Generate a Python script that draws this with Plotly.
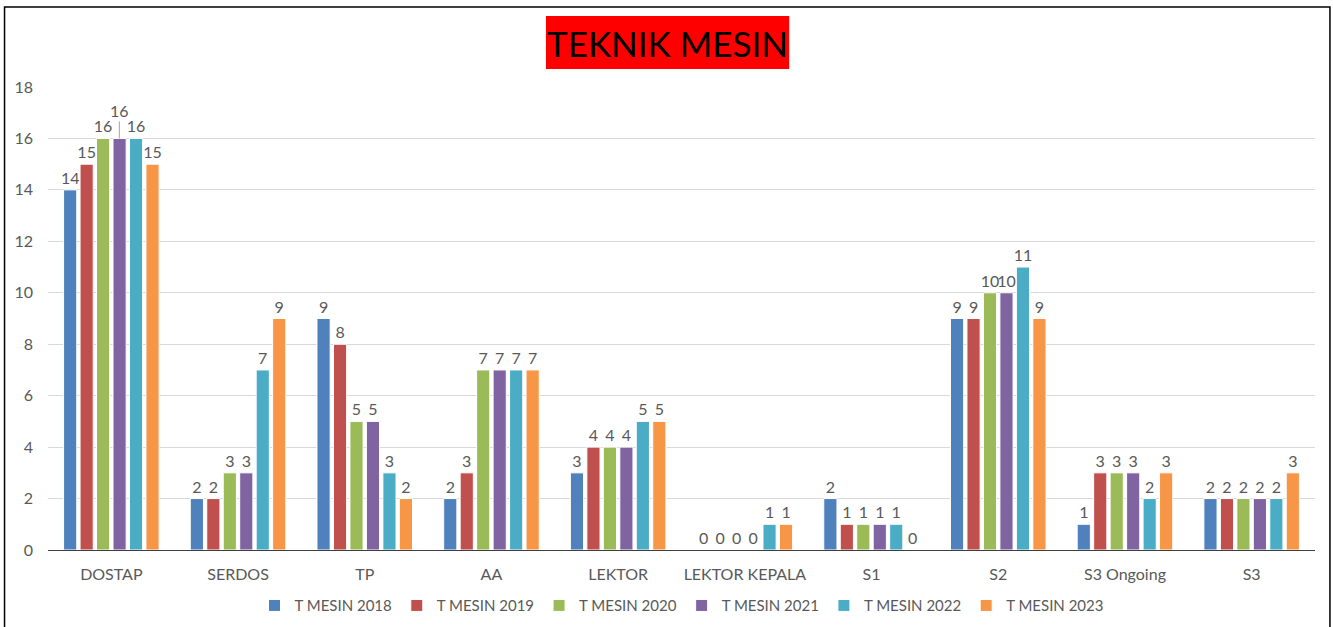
import plotly.graph_objects as go

categories = ["DOSTAP", "SERDOS", "TP", "AA", "LEKTOR", "LEKTOR KEPALA", "S1", "S2", "S3 Ongoing", "S3"]
series_names = ["T MESIN 2018", "T MESIN 2019", "T MESIN 2020", "T MESIN 2021", "T MESIN 2022", "T MESIN 2023"]
mesin_2018 = [14, 2, 9, 2, 3, 0, 2, 9, 1, 2]
mesin_2019 = [15, 2, 8, 3, 4, 0, 1, 9, 3, 2]
mesin_2020 = [16, 3, 5, 7, 4, 0, 1, 10, 3, 2]
mesin_2021 = [16, 3, 5, 7, 4, 0, 1, 10, 3, 2]
mesin_2022 = [16, 7, 3, 7, 5, 1, 1, 11, 2, 2]
mesin_2023 = [15, 9, 2, 7, 5, 1, 0, 9, 3, 3]
colors = ["#4F81BD", "#C0504D", "#9BBB59", "#8064A2", "#4BACC6", "#F79646"]
title_text = "TEKNIK MESIN"

all_series = [mesin_2018, mesin_2019, mesin_2020, mesin_2021, mesin_2022, mesin_2023]

FONT = "Lato"
GRAY = "#595959"

fig = go.Figure()
for i, (name, vals, col) in enumerate(zip(series_names, all_series, colors)):
    texts = [str(v) for v in vals]
    if i == 3:
        texts[0] = ""  # raised label with leader line drawn as annotation
    fig.add_trace(go.Bar(
        name=name, x=categories, y=vals, marker=dict(color=col, line=dict(color="white", width=1)),
        text=texts, textposition="outside", cliponaxis=False, constraintext="none",
        textfont=dict(family=FONT, size=16, color=GRAY),
    ))

# raised label for DOSTAP 2021 with leader line
fig.add_annotation(x=categories[0], y=mesin_2021[0], xref="x", yref="y", xshift=8,
                   text=str(mesin_2021[0]), showarrow=True, arrowhead=0, arrowwidth=1,
                   arrowcolor="#A6A6A6", ax=0, ay=-28, standoff=0,
                   font=dict(family=FONT, size=16, color=GRAY))

# title box
fig.add_shape(type="rect", xref="paper", yref="paper", x0=0.393, x1=0.585, y0=1.0389, y1=1.1533,
              line=dict(width=0), fillcolor="#FF0000", layer="above")
fig.add_annotation(x=0.4886, y=1.095, xref="paper", yref="paper", text=title_text,
                   showarrow=False, xanchor="center", yanchor="middle",
                   font=dict(family=FONT, size=35, color="black"))

# outer frame
fig.add_shape(type="rect", xref="paper", yref="paper", x0=-0.0343, x1=1.0118, y0=-0.3, y1=1.1728,
              line=dict(color="black", width=1.5), fillcolor="rgba(0,0,0,0)")

fig.update_layout(
    width=1333, height=627,
    margin=dict(l=48, r=18, t=87, b=77, autoexpand=False),
    paper_bgcolor="white", plot_bgcolor="white",
    barmode="group", bargap=0.22, bargroupgap=0.2,
    font=dict(family=FONT, size=16, color=GRAY),
    showlegend=True,
    legend=dict(orientation="h", x=0.5, xanchor="center", yref="container", y=0.034, yanchor="middle",
                font=dict(family=FONT, size=15, color=GRAY), itemwidth=30,
                traceorder="normal"),
    xaxis=dict(showline=True, linecolor="#404040", linewidth=1, ticks="", automargin=False,
               ticklabelstandoff=10,
               tickfont=dict(family=FONT, size=16, color=GRAY)),
    yaxis=dict(range=[0, 18], dtick=2, showgrid=True, gridcolor="#D9D9D9", gridwidth=1,
               zeroline=False, showline=False, ticks="", ticklabelstandoff=14, automargin=False,
               tickfont=dict(family=FONT, size=16, color=GRAY)),
)

fig.write_html("out.html", config={"displayModeBar": False},
               post_script="document.body.style.margin='0';document.body.style.overflow='hidden';")
